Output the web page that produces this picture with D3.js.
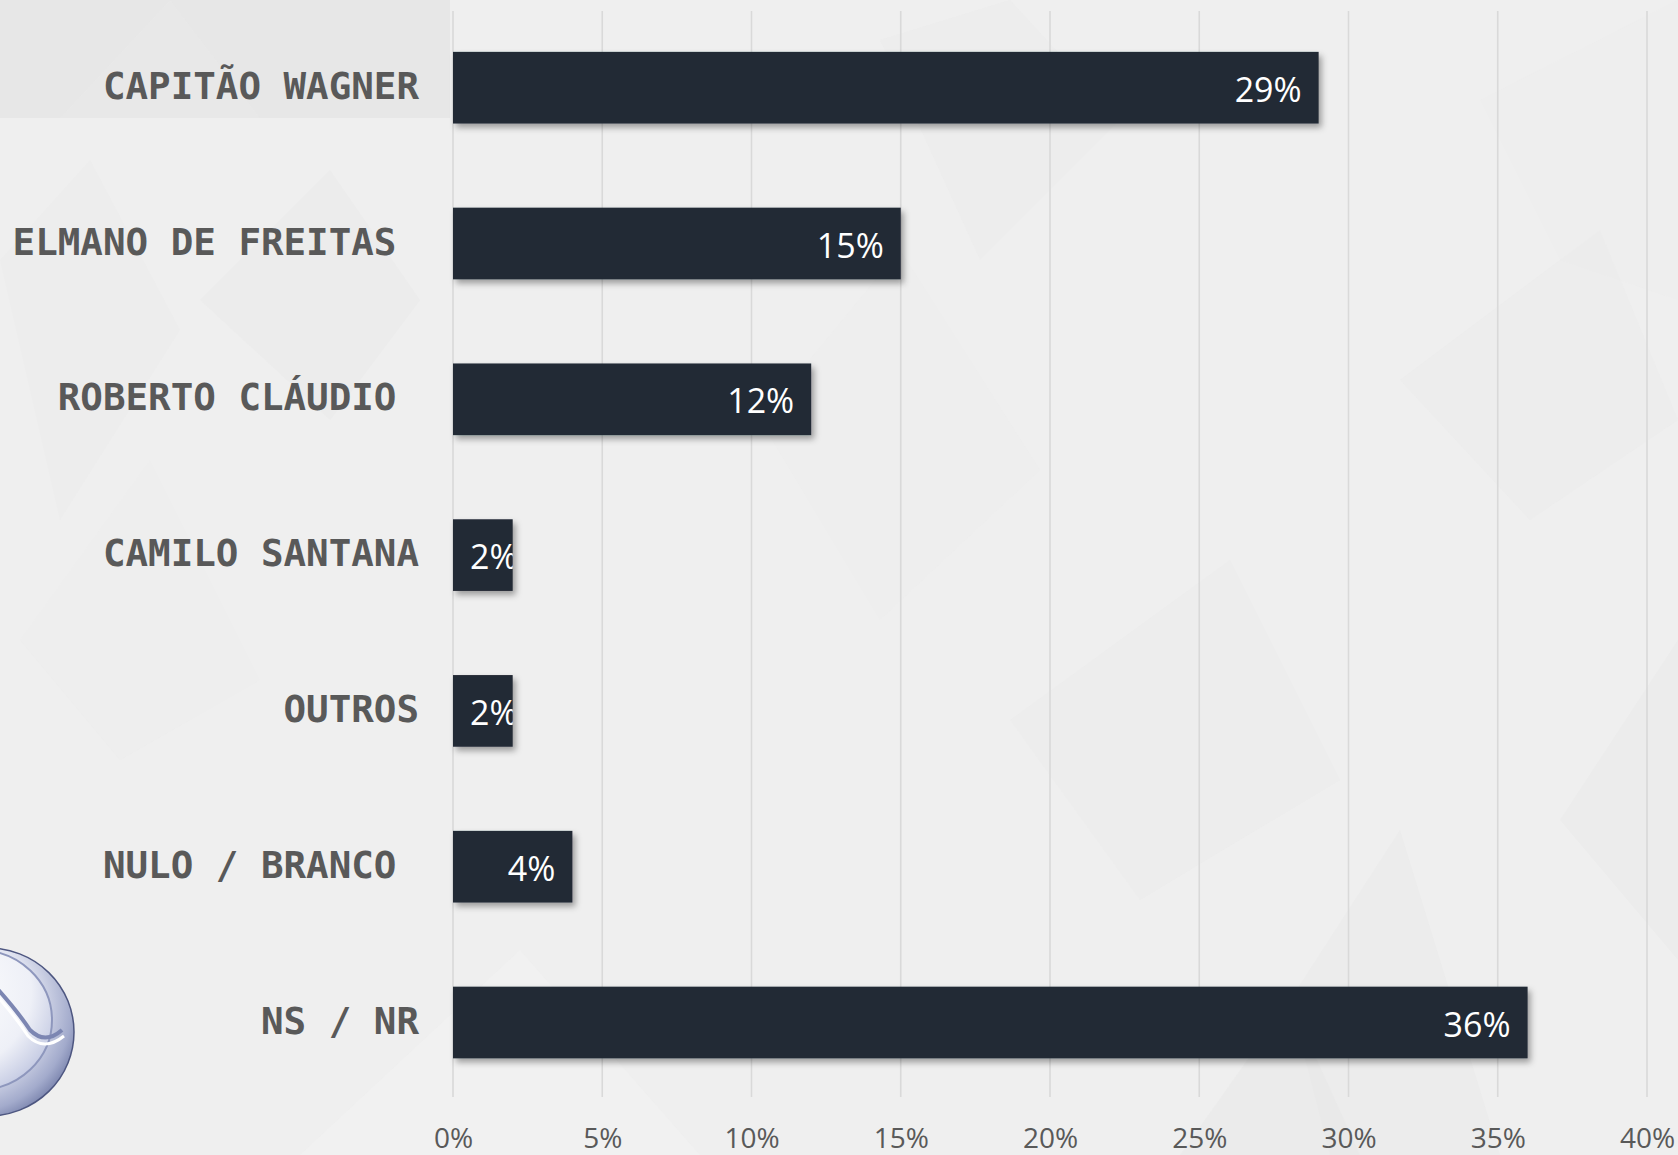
<!DOCTYPE html>
<html>
<head>
<meta charset="utf-8">
<script src="https://cdn.jsdelivr.net/npm/d3@7"></script>
<style>
  html, body { margin: 0; padding: 0; background: #efefef; }
  svg { display: block; }
</style>
</head>
<body>
<svg id="chart" width="1678" height="1155"></svg>
<script>
// ---- data ----
const categories = ["CAPITÃO WAGNER", "ELMANO DE FREITAS ", "ROBERTO CLÁUDIO ", "CAMILO SANTANA", "OUTROS", "NULO / BRANCO ", "NS / NR"];
const values = [29, 15, 12, 2, 2, 4, 36];
const valueLabels = ["29%", "15%", "12%", "2%", "2%", "4%", "36%"];
const tickValues = [0, 5, 10, 15, 20, 25, 30, 35, 40];
const tickLabels = ["0%", "5%", "10%", "15%", "20%", "25%", "30%", "35%", "40%"];

const W = 1678, H = 1155;
const svg = d3.select("#chart");
const defs = svg.append("defs");

// background
svg.append("rect").attr("width", W).attr("height", H).attr("fill", "#efefef");
const bgPolys = [
  [[0,0],[450,0],[450,118],[0,118]],
  [[60,118],[170,0],[260,118]],
  [[200,300],[330,170],[420,300],[330,420]],
  [[0,260],[90,160],[180,330],[60,520]],
  [[20,640],[150,460],[260,680],[120,760]],
  [[880,40],[1010,0],[1120,120],[980,260]],
  [[760,420],[900,250],[1040,470],[880,620]],
  [[1010,720],[1230,560],[1340,780],[1140,900]],
  [[1290,1000],[1400,830],[1500,1155],[1330,1155]],
  [[1480,100],[1678,0],[1678,300],[1560,260]],
  [[1400,380],[1600,230],[1678,420],[1530,520]],
  [[1560,820],[1678,640],[1678,960]],
  [[300,1155],[520,950],[700,1155]],
  [[1180,1155],[1290,1000],[1360,1155]]
];
const bgFills = ["#e6e6e6","#e9e9e9","#eaeaea","#ebebeb","#ececec","#ebebeb","#ececec","#ebebeb","#eaeaea","#ececec","#ebebeb","#eaeaea","#f2f2f2","#e8e8e8"];
svg.append("g").selectAll("polygon").data(bgPolys).join("polygon")
  .attr("points", d => d.map(p => p.join(",")).join(" "))
  .attr("fill", (d, i) => bgFills[i]).attr("opacity", (d, i) => i === 0 ? 0.9 : 0.55);

// logo (partial, bottom-left)
const lg = defs.append("radialGradient").attr("id", "logoGrad").attr("cx", "35%").attr("cy", "35%").attr("r", "75%");
lg.append("stop").attr("offset", "0%").attr("stop-color", "#ffffff");
lg.append("stop").attr("offset", "55%").attr("stop-color", "#e3e6f2");
lg.append("stop").attr("offset", "85%").attr("stop-color", "#a3abcc");
lg.append("stop").attr("offset", "100%").attr("stop-color", "#6d77a3");
const lg2 = defs.append("radialGradient").attr("id", "logoInner").attr("cx", "30%").attr("cy", "30%").attr("r", "80%");
lg2.append("stop").attr("offset", "0%").attr("stop-color", "#ffffff");
lg2.append("stop").attr("offset", "70%").attr("stop-color", "#eef0f7");
lg2.append("stop").attr("offset", "100%").attr("stop-color", "#c3c9e2");
const logo = svg.append("g");
logo.append("ellipse").attr("cx", -12).attr("cy", 1032).attr("rx", 86).attr("ry", 84)
  .attr("fill", "url(#logoGrad)").attr("stroke", "#4d5680").attr("stroke-width", 1.5);
logo.append("ellipse").attr("cx", -22).attr("cy", 1020).attr("rx", 74).attr("ry", 70)
  .attr("fill", "url(#logoInner)").attr("stroke", "#8e97bd").attr("stroke-width", 2);
logo.append("path").attr("d", "M -30 960 Q 10 1000 30 1030 Q 45 1045 62 1030")
  .attr("fill", "none").attr("stroke", "#7c86b2").attr("stroke-width", 4);
logo.append("path").attr("d", "M -30 968 Q 8 1005 28 1036 Q 44 1052 64 1036")
  .attr("fill", "none").attr("stroke", "#ffffff").attr("stroke-width", 3);

// shadow filter
const f = defs.append("filter").attr("id", "shadow").attr("x", "-10%").attr("y", "-20%").attr("width", "130%").attr("height", "160%");
f.append("feDropShadow").attr("dx", 3).attr("dy", 4).attr("stdDeviation", 3)
  .attr("flood-color", "#000").attr("flood-opacity", 0.35);

// scales
const x = d3.scaleLinear().domain([0, 40]).range([453, 1647]);
const y = d3.scaleBand().domain(categories).range([9.8, 1100.4]).paddingInner(0.54).paddingOuter(0.27);

// gridlines
svg.append("g").selectAll("line").data(tickValues).join("line")
  .attr("x1", d => x(d)).attr("x2", d => x(d))
  .attr("y1", 11).attr("y2", 1097)
  .attr("stroke", "#d9d9d9").attr("stroke-width", 1.6);

// x axis labels
const xAxis = d3.axisBottom(x).tickValues(tickValues).tickFormat((d, i) => tickLabels[i]).tickSize(0).tickPadding(0);
const xa = svg.append("g").attr("transform", "translate(0,1128)").call(xAxis);
xa.select(".domain").remove();
xa.selectAll("text").attr("fill", "#595959")
  .style("font-family", "'Open Sans', sans-serif").style("font-size", "28px");

// category labels
svg.append("g").selectAll("text").data(categories).join("text")
  .attr("x", 419).attr("y", d => y(d) + y.bandwidth() / 2 - 2)
  .attr("text-anchor", "end").attr("dominant-baseline", "central")
  .style("white-space", "pre")
  .attr("fill", "#595959")
  .style("font-family", "'DejaVu Sans Mono', monospace").style("font-weight", "bold").style("font-size", "37.5px")
  .text(d => d);

// bars
const bars = svg.append("g");
bars.selectAll("rect").data(categories).join("rect")
  .attr("x", x(0)).attr("y", d => y(d))
  .attr("width", (d, i) => x(values[i]) - x(0)).attr("height", y.bandwidth())
  .attr("fill", "#222a35").attr("filter", "url(#shadow)");

// clip paths for value labels
categories.forEach((d, i) => {
  defs.append("clipPath").attr("id", "clip" + i).append("rect")
    .attr("x", x(0)).attr("y", y(d)).attr("width", x(values[i]) - x(0)).attr("height", y.bandwidth());
});

// value labels
const vl = svg.append("g").selectAll("text").data(categories).join("text")
  .attr("y", d => y(d) + y.bandwidth() / 2 + 1)
  .attr("dominant-baseline", "central")
  .attr("fill", "#ffffff")
  .attr("clip-path", (d, i) => "url(#clip" + i + ")")
  .style("font-family", "'Open Sans', sans-serif").style("font-size", "34px")
  .text((d, i) => valueLabels[i]);
vl.each(function(d, i) {
  const w = this.getComputedTextLength();
  const xs = Math.max(x(values[i]) - 17 - w, x(0) + 17);
  d3.select(this).attr("x", xs);
});
</script>
</body>
</html>
